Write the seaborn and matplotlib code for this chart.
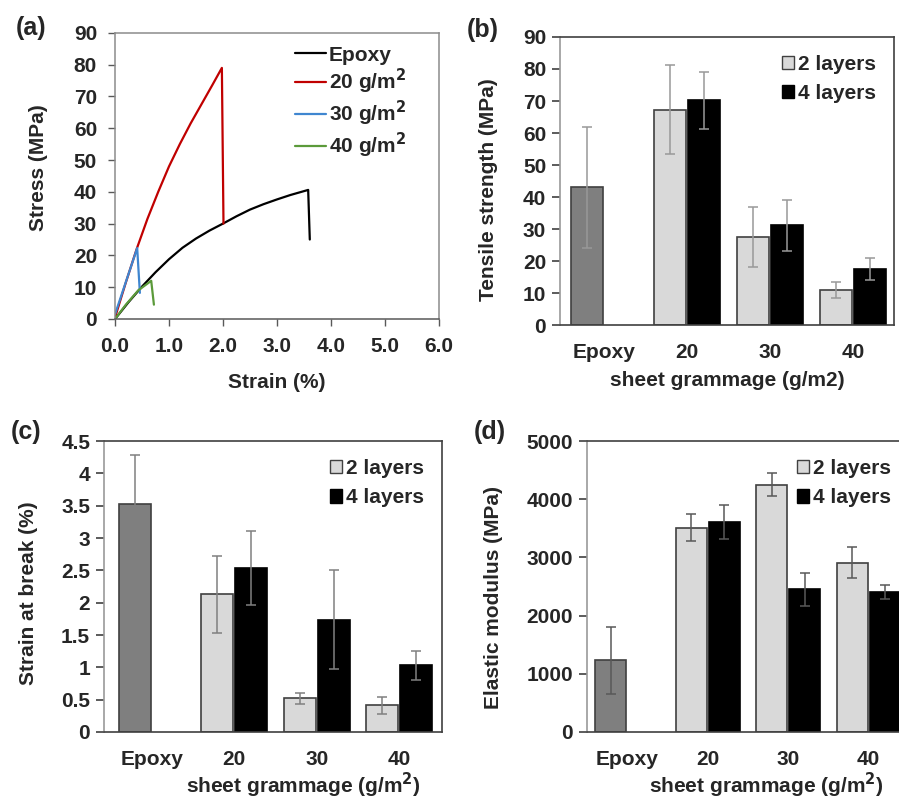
import numpy as np
import pandas as pd
import matplotlib
matplotlib.use("Agg")
import matplotlib.pyplot as plt
from matplotlib.patches import Patch
from matplotlib.ticker import FuncFormatter
import seaborn as sns

# (a) stress-strain curves
epoxy_strain = [0, 0.25, 0.5, 0.75, 1.0, 1.25, 1.5, 1.75, 2.0, 2.25, 2.5, 2.75,
                3.0, 3.25, 3.58, 3.61]
epoxy_stress = [0, 5.3, 10.2, 14.7, 18.8, 22.4, 25.3, 27.8, 30.0, 32.3, 34.4,
                36.1, 37.6, 39.0, 40.6, 25]
g20_strain = [0, 0.2, 0.4, 0.6, 0.8, 1.0, 1.2, 1.4, 1.6, 1.8, 1.98, 2.01]
g20_stress = [0.5, 11.5, 22, 31.5, 40, 48, 55, 61.5, 67.5, 73.5, 79, 30]
g30_strain = [0, 0.41, 0.46]
g30_stress = [1.5, 22.3, 8.2]
g40_strain = [0, 0.2, 0.43, 0.67, 0.72]
g40_stress = [0, 4.5, 9, 12, 4.5]

# (b)-(d) bar data
groups = ["Epoxy", "20", "30", "40"]
layers = ["2 layers", "4 layers"]
bar_groups = ["Epoxy", "20", "20", "30", "30", "40", "40"]
bar_layers = ["2 layers", "2 layers", "4 layers", "2 layers", "4 layers", "2 layers", "4 layers"]
tensile = [43.0, 67.3, 70.2, 27.5, 31.2, 10.9, 17.5]
tensile_err = [19.0, 13.8, 9.0, 9.5, 8.0, 2.4, 3.3]
strain_break = [3.53, 2.13, 2.54, 0.52, 1.74, 0.41, 1.03]
strain_break_err = [0.76, 0.60, 0.57, 0.09, 0.77, 0.13, 0.22]
modulus = [1230, 3510, 3610, 4250, 2450, 2910, 2410]
modulus_err = [580, 235, 295, 200, 280, 265, 125]

sns.set_style("white")
plt.rcParams["font.family"] = ["Liberation Sans", "DejaVu Sans"]
plt.rcParams["font.weight"] = "bold"
plt.rcParams["axes.labelweight"] = "bold"

fs = 15
fig = plt.figure(figsize=(8.99, 7.99), dpi=100)

# ---------- (a) ----------
ax = fig.add_axes([0.128, 0.6008, 0.360, 0.358])
curves = [
    ("Epoxy", epoxy_strain, epoxy_stress, "black"),
    ("20 g/m$^\\mathbf{2}$", g20_strain, g20_stress, "#c00000"),
    ("30 g/m$^\\mathbf{2}$", g30_strain, g30_stress, "#3f86d0"),
    ("40 g/m$^\\mathbf{2}$", g40_strain, g40_stress, "#5b9a3a"),
]
for lab, xs, ys, c in curves:
    sns.lineplot(x=xs, y=ys, ax=ax, color=c, lw=1.6, label=lab, sort=False)
ax.set_xlim(0, 6)
ax.set_ylim(0, 90)
ax.set_xticks(np.arange(0, 6.1, 1.0))
ax.set_yticks(np.arange(0, 91, 10))
ax.xaxis.set_major_formatter(FuncFormatter(lambda v, p: f"{v:.1f}"))
for s in ax.spines.values():
    s.set_color("#8c8c8c")
    s.set_linewidth(1.1)
ax.spines["bottom"].set_color("#595959")
ax.tick_params(axis="x", direction="out", length=5, width=1, color="#595959",
               labelsize=fs, pad=8, bottom=True)
ax.tick_params(axis="y", direction="out", length=5, width=1, color="#595959",
               labelsize=fs, pad=8, left=True)
ax.set_xlabel("Strain (%)", fontsize=fs)
ax.set_ylabel("Stress (MPa)", fontsize=fs)
ax.xaxis.set_label_coords(0.5, -0.19)
ax.yaxis.set_label_coords(-0.207, 0.53)
ax.legend(loc="upper right", frameon=False, fontsize=fs, handlelength=1.5,
          handletextpad=0.15, labelspacing=0.12, borderaxespad=0.0,
          bbox_to_anchor=(0.925, 0.985))
fig.text(0.018, 0.965, "(a)", fontsize=18, fontweight="bold", va="center")


def bar_panel(rect, vals, errs, ylim, yticks, ylabel, xlabel, xlim,
              ylab_coords, xlab_coords, err_color, fmt=None):
    ax = fig.add_axes(rect)
    df = pd.DataFrame({"group": bar_groups, "layers": bar_layers,
                       "val": vals, "err": errs})
    sns.barplot(data=df, x="group", y="val", hue="layers", order=groups,
                hue_order=layers, palette=["#d9d9d9", "#000000"],
                width=0.82, gap=0.06, errorbar=None, legend=False,
                edgecolor="#404040", linewidth=1.2, saturation=1, ax=ax)
    for lev, cont in zip(layers, ax.containers):
        sub = df[df["layers"] == lev].set_index("group")
        for bar in cont:
            cx = bar.get_x() + bar.get_width() / 2
            g = groups[int(round(cx))]
            if g == "Epoxy":
                bar.set_facecolor("#7f7f7f")
            if lev == "4 layers":
                bar.set_edgecolor("black")
            ax.errorbar(cx, bar.get_height(), yerr=sub.loc[g, "err"],
                        fmt="none", ecolor=err_color, elinewidth=1.1,
                        capsize=3.5, capthick=1.1, zorder=5)
    ax.set_xlim(*xlim)
    ax.set_ylim(*ylim)
    ax.set_yticks(yticks)
    if fmt is not None:
        ax.yaxis.set_major_formatter(FuncFormatter(fmt))
    for s in ax.spines.values():
        s.set_color("#404040")
        s.set_linewidth(1.2)
    ax.spines["left"].set_color("#999999")
    ax.tick_params(axis="y", direction="out", length=6, width=1.2,
                   color="#404040", labelsize=fs, pad=4, left=True)
    ax.tick_params(axis="x", length=0, labelsize=fs, pad=13)
    ax.set_xlabel(xlabel, fontsize=fs)
    ax.set_ylabel(ylabel, fontsize=fs)
    ax.xaxis.set_label_coords(*xlab_coords)
    ax.yaxis.set_label_coords(*ylab_coords)
    handles = [Patch(facecolor="#d9d9d9", edgecolor="#404040", label="2 layers"),
               Patch(facecolor="black", edgecolor="black", label="4 layers")]
    ax.legend(handles=handles, loc="upper right", frameon=False, fontsize=fs,
              handlelength=0.6, handleheight=0.6, handletextpad=0.2,
              labelspacing=0.5, borderaxespad=0.45)
    return ax


sup = "sheet grammage (g/m$^\\mathbf{2}$)"

bar_panel([0.623, 0.5932, 0.3715, 0.3605], tensile, tensile_err,
          (0, 90), np.arange(0, 91, 10), "Tensile strength (MPa)",
          "sheet grammage (g/m2)", (-0.53, 3.49), (-0.186, 0.47), (0.5, -0.16),
          "#999999")
fig.text(0.519, 0.962, "(b)", fontsize=18, fontweight="bold", va="center")

bar_panel([0.1157, 0.0839, 0.376, 0.364], strain_break, strain_break_err,
          (0, 4.5), np.arange(0, 4.51, 0.5), "Strain at break (%)",
          sup, (-0.58, 3.52), (-0.195, 0.478), (0.59, -0.135),
          "#808080", fmt=lambda v, p: f"{v:g}")
fig.text(0.012, 0.459, "(c)", fontsize=18, fontweight="bold", va="center")

bar_panel([0.653, 0.0839, 0.358, 0.364], modulus, modulus_err,
          (0, 5000), np.arange(0, 5001, 1000), "Elastic modulus (MPa)",
          sup, (-0.5, 3.5), (-0.261, 0.464), (0.556, -0.135),
          "#595959")
fig.text(0.527, 0.459, "(d)", fontsize=18, fontweight="bold", va="center")

fig.savefig("out.png", dpi=100)
